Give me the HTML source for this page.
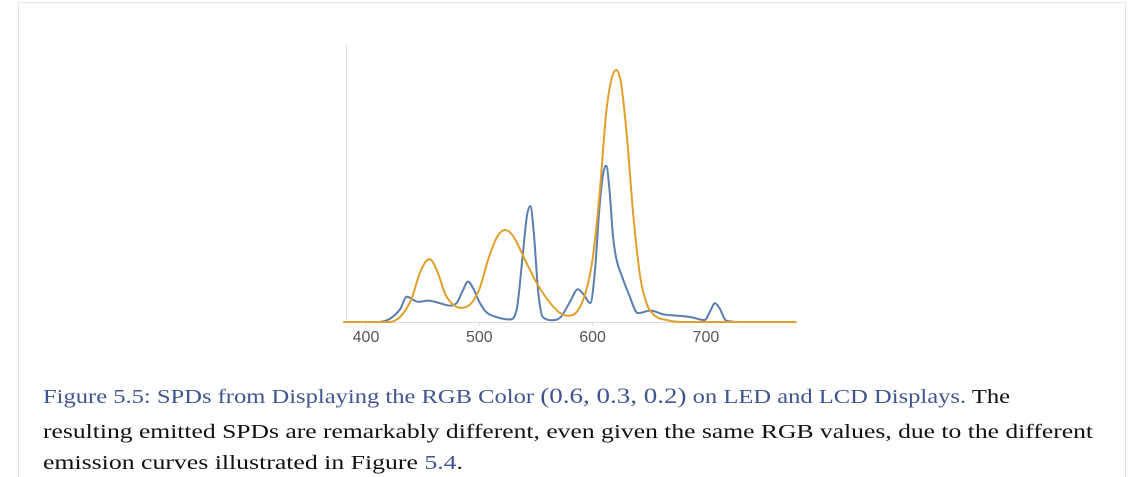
<!DOCTYPE html>
<html><head><meta charset="utf-8"><style>
html,body{margin:0;padding:0;background:#fff;}
svg{display:block}
</style></head><body>
<svg id="fig" width="1141" height="477" viewBox="0 0 1141 477">
<rect x="18.5" y="2.5" width="1107" height="480" fill="#fff" stroke="#e4e4e4"/>
<g id="chart"></g>
<g font-family="'Liberation Serif', serif" font-size="20">
<text x="43" y="403" textLength="967" lengthAdjust="spacingAndGlyphs"><tspan fill="#41548f">Figure 5.5: SPDs from Displaying the RGB Color </tspan><tspan fill="#41548f" font-size="22">(0.6, 0.3, 0.2)</tspan><tspan fill="#41548f"> on LED and LCD Displays.</tspan><tspan fill="#111"> The</tspan></text>
<text x="43" y="438" textLength="1050" lengthAdjust="spacingAndGlyphs" fill="#111">resulting emitted SPDs are remarkably different, even given the same RGB values, due to the different</text>
<text x="43" y="469" textLength="420" lengthAdjust="spacingAndGlyphs" fill="#111">emission curves illustrated in Figure <tspan fill="#41548f">5.4</tspan>.</text>
</g>
</svg>
<script>
const xTicks = [400, 500, 600, 700];
const ledWavelengths = [380,410,420,430,436,446,455,465,474,480,485,490,495,500,506,515,527,533,538,542,545,548,552,556,565,572,580,587,592,598,602,606,609,612,615,618,621,626,632,640,651,663,675,686,699,704,708,712,718,730,780];
const ledValues =      [0,0,0.01,0.05,0.10,0.08,0.085,0.075,0.065,0.075,0.12,0.16,0.13,0.08,0.04,0.02,0.01,0.05,0.25,0.42,0.46,0.36,0.12,0.02,0.007,0.02,0.08,0.13,0.11,0.075,0.2,0.45,0.58,0.62,0.52,0.34,0.25,0.18,0.11,0.035,0.045,0.03,0.025,0.02,0.008,0.045,0.075,0.055,0.005,0,0];
const lcdWavelengths = [380,420,430,440,448,456,463,470,478,484,492,500,508,516,523,530,540,550,560,570,578,586,594,600,606,612,617,621,625,630,636,642,648,655,665,680,780];
const lcdValues =      [0,0,0.02,0.09,0.2,0.25,0.2,0.11,0.065,0.056,0.07,0.13,0.25,0.34,0.365,0.34,0.25,0.16,0.09,0.04,0.025,0.04,0.12,0.25,0.5,0.83,0.97,1.0,0.95,0.75,0.42,0.18,0.07,0.025,0.008,0,0];

const X = l => 366 + (l - 400) * 1.133;
const Y = v => 322 - v * 252;
const ns = 'http://www.w3.org/2000/svg';
const chart = document.getElementById('chart');

function mk(tag, attrs){const e=document.createElementNS(ns,tag);for(const k in attrs)e.setAttribute(k,attrs[k]);return e;}

const yAxis = mk('line',{x1:346.5,y1:44,x2:346.5,y2:322,stroke:'#ddd','stroke-width':1});


chart.appendChild(yAxis);
const xAxis = mk('line',{x1:343,y1:322.5,x2:796,y2:322.5,stroke:'#ddd','stroke-width':1});


chart.appendChild(xAxis);

xTicks.forEach(t=>{
  const tk = mk('line',{x1:X(t),y1:322,x2:X(t),y2:326,stroke:'#ddd'});
  
  
  chart.appendChild(tk);
  const tx = mk('text',{x:X(t),y:342,'text-anchor':'middle','font-family':"'Liberation Sans', sans-serif",'font-size':16,fill:'#555'});
  tx.textContent = t;
  
  
  chart.appendChild(tx);
});

function monotonePath(xs, ys){
  const n=xs.length, px=xs.map(X), py=ys.map(Y);
  const d=[], m=new Array(n);
  for(let i=0;i<n-1;i++) d.push((py[i+1]-py[i])/(px[i+1]-px[i]));
  m[0]=d[0]; m[n-1]=d[n-2];
  for(let i=1;i<n-1;i++){ m[i] = (d[i-1]*d[i]<=0)?0:(d[i-1]+d[i])/2; }
  for(let i=0;i<n-1;i++){
    if(d[i]===0){m[i]=0;m[i+1]=0;continue;}
    const a=m[i]/d[i], b=m[i+1]/d[i], s=a*a+b*b;
    if(s>9){const t=3/Math.sqrt(s);m[i]=t*a*d[i];m[i+1]=t*b*d[i];}
  }
  let p='M'+px[0]+','+py[0];
  for(let i=0;i<n-1;i++){
    const h=(px[i+1]-px[i])/3;
    p+=' C'+(px[i]+h)+','+(py[i]+m[i]*h)+' '+(px[i+1]-h)+','+(py[i+1]-m[i+1]*h)+' '+px[i+1]+','+py[i+1];
  }
  return p;
}

const led = mk('path',{d:monotonePath(ledWavelengths, ledValues),fill:'none',stroke:'#5a7eb0','stroke-width':2});


chart.appendChild(led);
const lcd = mk('path',{d:monotonePath(lcdWavelengths, lcdValues),fill:'none',stroke:'#e0a02c','stroke-width':2});


chart.appendChild(lcd);
</script>
</body></html>
